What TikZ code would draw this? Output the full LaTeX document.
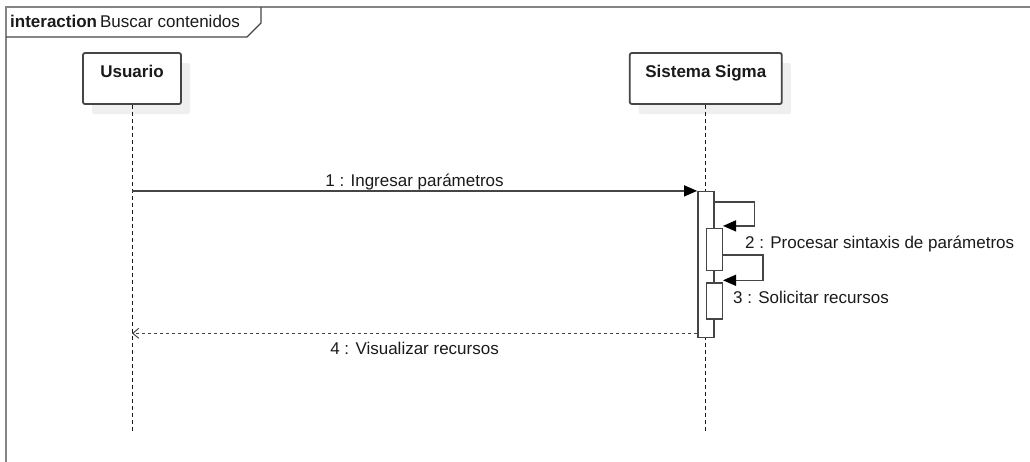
\documentclass[tikz,border=0pt]{standalone}
\usepackage{fontspec}
\setmainfont{Liberation Sans}
\usetikzlibrary{positioning,arrows.meta,shadows}

\definecolor{framegray}{HTML}{858585}
\definecolor{linegray}{HTML}{454545}
\definecolor{shadowgray}{HTML}{EFEFEF}
\definecolor{textgray}{HTML}{1A1A1A}

\begin{document}
\begin{tikzpicture}[
    x=1pt, y=-1pt,
    every node/.style={
        font=\fontsize{17}{20}\selectfont,
        text=textgray,
        inner sep=0pt
    },
    % Lifeline heads
    lifehead/.style={
        draw=linegray,
        line width=1.8pt,
        rounded corners=2pt,
        fill=white,
        text height=24pt,
        text depth=27pt,
        minimum width=98pt,
        font=\fontsize{17}{20}\selectfont\bfseries,
        general shadow={fill=shadowgray, shadow xshift=9pt, shadow yshift=-10pt}
    },
    lifeline/.style={
        draw=textgray,
        line width=0.8pt,
        dash pattern=on 4pt off 3pt
    },
    % Activation bars
    act/.style={
        draw=linegray,
        line width=1.4pt,
        fill=white,
        minimum width=16pt
    },
    msg/.style={
        draw=linegray,
        line width=1.4pt,
        -{Triangle[length=13pt,width=11pt,color=black,fill=black]}
    },
    ret/.style={
        draw=linegray,
        line width=1pt,
        dash pattern=on 3pt off 3pt,
        -{Straight Barb[length=6pt,width=10pt]}
    },
    frame/.style={
        draw=framegray,
        line width=2pt
    }
]
    \useasboundingbox (0,0) rectangle (1030,461);
    \clip (0,0) rectangle (1030,461);

    % Interaction frame
    \draw[frame] (6,480) -- (6,7) -- (1050,7);
    \node[anchor=base west] (title) at (10,27) {\textbf{interaction}\hspace{3pt}Buscar contenidos};
    \draw[draw=linegray, line width=1.3pt] (6,37) -- (247,37) -- (261,23) -- (261,7);

    % Lifelines
    \node[lifehead] (usuario) at (132,78.5) {Usuario};
    \node[lifehead, minimum width=152pt, right=447pt of usuario] (sigma) {Sistema Sigma};
    \coordinate[below=328pt of usuario] (usuario end);
    \coordinate[below=328pt of sigma] (sigma end);
    \draw[lifeline] (usuario) -- (usuario end);
    \draw[lifeline] (sigma) -- (sigma end);

    % Activations
    \node[act, minimum height=146pt, below=86pt of sigma] (act1) {};
    \node[act, minimum height=42pt, anchor=north] (act2) at ([xshift=8.5pt,yshift=-37pt]act1.north) {};
    \node[act, minimum height=36pt, below=11pt of act2] (act3) {};

    % Messages
    \draw[msg] (usuario.south |- act1.north) -- node[anchor=base, yshift=4.5pt] (m1) {1 : Ingresar parámetros} (act1.north west);
    \draw[msg] ([yshift=-11pt]act1.north east) -- ++(40,0) |- ([yshift=2pt]act2.north east);
    \node[anchor=base west] (m2) at ([xshift=22pt,yshift=-21pt]act2.north east) {2 : Procesar sintaxis de parámetros};
    \draw[msg] ([yshift=-27pt]act2.north east) -- ++(40,0) |- ([yshift=2pt]act3.north east);
    \node[anchor=base west] (m3) at ([xshift=10pt,yshift=-21pt]act3.north east) {3 : Solicitar recursos};
    \draw[ret] ([yshift=5pt]act1.south west) -- node[anchor=base, yshift=-21pt] (m4) {4 : Visualizar recursos} ([yshift=5pt]act1.south west -| usuario.south);
\end{tikzpicture}
\end{document}
